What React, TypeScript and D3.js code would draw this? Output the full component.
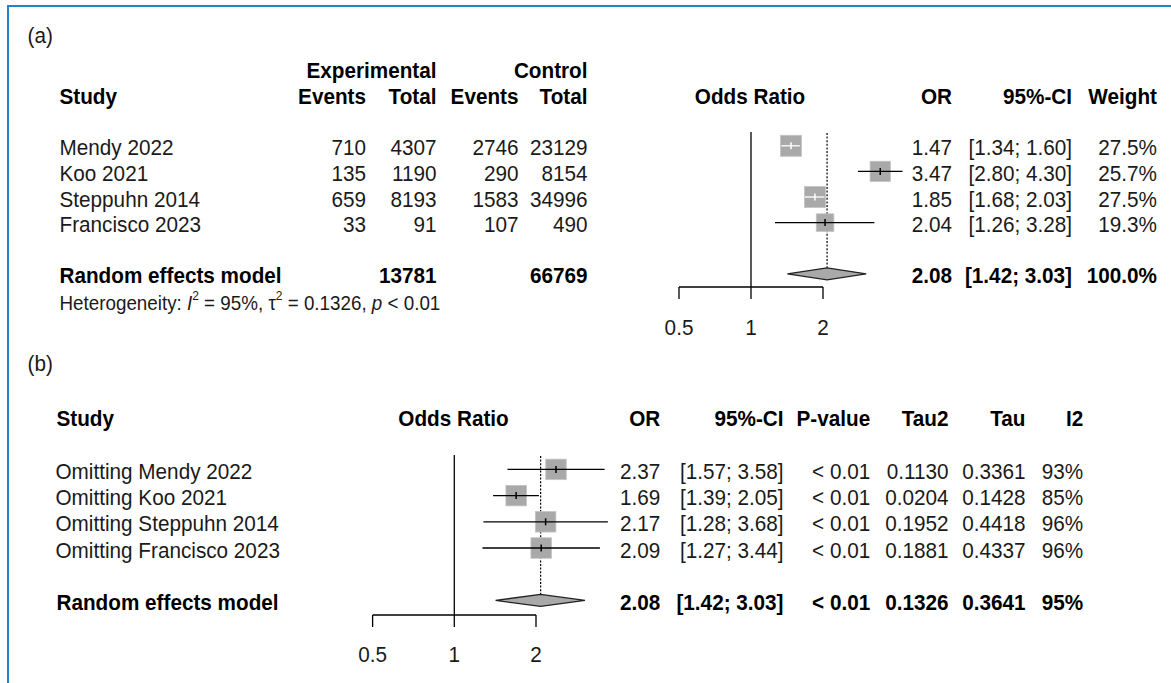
import React from "react";
import * as d3 from "d3";

// ---------- Data: panel (a) ----------
const studies = ["Mendy 2022", "Koo 2021", "Steppuhn 2014", "Francisco 2023"];
const expEvents = [710, 135, 659, 33];
const expTotal = [4307, 1190, 8193, 91];
const ctrlEvents = [2746, 290, 1583, 107];
const ctrlTotal = [23129, 8154, 34996, 490];
const orA = [1.47, 3.47, 1.85, 2.04];
const loA = [1.34, 2.8, 1.68, 1.26];
const hiA = [1.6, 4.3, 2.03, 3.28];
const weightA = [27.5, 25.7, 27.5, 19.3];
const pooledA = { or: 2.08, lo: 1.42, hi: 3.03, expTotal: 13781, ctrlTotal: 66769, weight: 100.0 };
const hetI2 = "95%";
const hetTau2 = "0.1326";
const hetP = "0.01";

// ---------- Data: panel (b) ----------
const omitLabels = ["Omitting Mendy 2022", "Omitting Koo 2021", "Omitting Steppuhn 2014", "Omitting Francisco 2023"];
const orB = [2.37, 1.69, 2.17, 2.09];
const loB = [1.57, 1.39, 1.28, 1.27];
const hiB = [3.58, 2.05, 3.68, 3.44];
const pvalB = ["< 0.01", "< 0.01", "< 0.01", "< 0.01"];
const tau2B = [0.113, 0.0204, 0.1952, 0.1881];
const tauB = [0.3361, 0.1428, 0.4418, 0.4337];
const i2B = [93, 85, 96, 96];
const pooledB = { or: 2.08, lo: 1.42, hi: 3.03, p: "< 0.01", tau2: 0.1326, tau: 0.3641, i2: 95 };

const axisTicks = [0.5, 1, 2];

const FONT = "'Liberation Sans', Arial, Helvetica, sans-serif";
const FS = 22.4;
const SX = 0.925;
const SQ_FILL = "#a9a9a9";

const f2 = (v: number) => v.toFixed(2);
const f4 = (v: number) => v.toFixed(4);
const ci = (l: number, h: number) => `[${f2(l)}; ${f2(h)}]`;

type TProps = {
  x: number;
  y: number;
  anchor?: "start" | "middle" | "end";
  bold?: boolean;
  size?: number;
  sx?: number;
  children: React.ReactNode;
};

function T({ x, y, anchor = "start", bold = false, size = FS, sx = SX, children }: TProps) {
  return (
    <text
      transform={`translate(${x},${y}) scale(${sx},1)`}
      textAnchor={anchor}
      fontSize={size}
      fontWeight={bold ? "bold" : "normal"}
      fill={bold ? "#000" : "#1a1a1a"}
    >
      {children}
    </text>
  );
}

type ForestProps = {
  x: d3.ScaleLogarithmic<number, number>;
  y: (i: number) => number;
  ors: number[];
  los: number[];
  his: number[];
  sizes: number[];
  pooled: { or: number; lo: number; hi: number };
  pooledRow: number;
  lineTop: number;
  axisY: number;
  tickLen: number;
  labelY: number;
};

function Forest({ x, y, ors, los, his, sizes, pooled, pooledRow, lineTop, axisY, tickLen, labelY }: ForestProps) {
  const py = y(pooledRow);
  const dh = 6;
  return (
    <g>
      <line x1={x(1)} x2={x(1)} y1={lineTop} y2={axisY} stroke="#000" strokeWidth={1.3} />
      <line x1={x(pooled.or)} x2={x(pooled.or)} y1={lineTop + 1} y2={py - dh} stroke="#000" strokeWidth={1.2} strokeDasharray="2,1.6" />
      {ors.map((o, i) => {
        const cy = y(i);
        const s = sizes[i];
        const cx = x(o);
        const inside = x(los[i]) >= cx - s / 2 && x(his[i]) <= cx + s / 2;
        const col = inside ? "#ffffff" : "#000000";
        return (
          <g key={i}>
            <rect x={cx - s / 2} y={cy - s / 2} width={s} height={s} fill={SQ_FILL} stroke="#c4c4c4" strokeWidth={0.8} />
            <line x1={x(los[i])} x2={x(his[i])} y1={cy} y2={cy} stroke={col} strokeWidth={1.3} />
            <line x1={cx} x2={cx} y1={cy - 3.5} y2={cy + 3.5} stroke={col} strokeWidth={1.5} />
          </g>
        );
      })}
      <polygon
        points={`${x(pooled.lo)},${py} ${x(pooled.or)},${py - dh} ${x(pooled.hi)},${py} ${x(pooled.or)},${py + dh}`}
        fill={SQ_FILL}
        stroke="#222"
        strokeWidth={1.3}
      />
      <line x1={x(axisTicks[0])} x2={x(axisTicks[axisTicks.length - 1])} y1={axisY} y2={axisY} stroke="#000" strokeWidth={1.3} />
      {axisTicks.map((t) => (
        <g key={t}>
          <line x1={x(t)} x2={x(t)} y1={axisY} y2={axisY + tickLen} stroke="#000" strokeWidth={1.3} />
          <T x={x(t)} y={labelY} anchor="middle">{String(t)}</T>
        </g>
      ))}
    </g>
  );
}

export default function App() {
  const xA = d3.scaleLog().domain([0.5, 2]).range([679, 823]);
  const yA = d3.scaleLinear().domain([0, 1]).range([145.8, 171.4]);
  const sizeA = d3.scaleSqrt().domain([0, 27.5]).range([0, 21]);
  const baseA = (i: number) => yA(i) + 9.5;

  const xB = d3.scaleLog().domain([0.5, 2]).range([372.6, 536]);
  const yB = d3.scaleLinear().domain([0, 1]).range([469.4, 495.6]);
  const baseB = (i: number) => yB(i) + 9.6;

  const colA = { events1: 366, total1: 436.5, events2: 518.5, total2: 587.5, or: 952, ci: 1072, w: 1157 };
  const colB = { or: 660.3, ci: 783.5, p: 870.2, tau2: 948.5, tau: 1025.5, i2: 1083.2 };

  return (
    <svg
      width={1171}
      height={683}
      style={{ position: "absolute", left: 0, top: 0, background: "#fff" }}
      fontFamily={FONT}
    >
      <rect x={0} y={0} width={1171} height={683} fill="#fff" />
      <rect x={7} y={5} width={1164} height={2} fill="#1b87c5" />
      <rect x={7} y={5} width={2} height={678} fill="#1b87c5" />

      {/* ===== Panel (a) ===== */}
      <T x={27.5} y={43}>(a)</T>
      <T x={colA.total1} y={78} anchor="end" bold>Experimental</T>
      <T x={colA.total2} y={78} anchor="end" bold>Control</T>
      <T x={59.5} y={103.5} bold>Study</T>
      <T x={colA.events1} y={103.5} anchor="end" bold>Events</T>
      <T x={colA.total1} y={103.5} anchor="end" bold>Total</T>
      <T x={colA.events2} y={103.5} anchor="end" bold>Events</T>
      <T x={colA.total2} y={103.5} anchor="end" bold>Total</T>
      <T x={750} y={103.5} anchor="middle" bold>Odds Ratio</T>
      <T x={colA.or} y={103.5} anchor="end" bold>OR</T>
      <T x={colA.ci} y={103.5} anchor="end" bold>95%-CI</T>
      <T x={colA.w} y={103.5} anchor="end" bold>Weight</T>
      {studies.map((s, i) => (
        <g key={s}>
          <T x={59.5} y={baseA(i)}>{s}</T>
          <T x={colA.events1} y={baseA(i)} anchor="end">{expEvents[i]}</T>
          <T x={colA.total1} y={baseA(i)} anchor="end">{expTotal[i]}</T>
          <T x={colA.events2} y={baseA(i)} anchor="end">{ctrlEvents[i]}</T>
          <T x={colA.total2} y={baseA(i)} anchor="end">{ctrlTotal[i]}</T>
          <T x={colA.or} y={baseA(i)} anchor="end">{f2(orA[i])}</T>
          <T x={colA.ci} y={baseA(i)} anchor="end">{ci(loA[i], hiA[i])}</T>
          <T x={colA.w} y={baseA(i)} anchor="end">{weightA[i].toFixed(1)}%</T>
        </g>
      ))}
      <T x={59.5} y={baseA(5)} bold>Random effects model</T>
      <T x={colA.total1} y={baseA(5)} anchor="end" bold>{pooledA.expTotal}</T>
      <T x={colA.total2} y={baseA(5)} anchor="end" bold>{pooledA.ctrlTotal}</T>
      <T x={colA.or} y={baseA(5)} anchor="end" bold>{f2(pooledA.or)}</T>
      <T x={colA.ci} y={baseA(5)} anchor="end" bold>{ci(pooledA.lo, pooledA.hi)}</T>
      <T x={colA.w} y={baseA(5)} anchor="end" bold>{pooledA.weight.toFixed(1)}%</T>
      <T x={59.5} y={309.5} size={20.4} sx={0.922}>
        Heterogeneity: <tspan fontStyle="italic">I</tspan>
        <tspan fontSize={13} dy={-9.5}>2</tspan>
        <tspan dy={9.5}>{` = ${hetI2}, τ`}</tspan>
        <tspan fontSize={13} dy={-9.5}>2</tspan>
        <tspan dy={9.5}>{` = ${hetTau2}, `}</tspan>
        <tspan fontStyle="italic">p</tspan>
        <tspan>{` < ${hetP}`}</tspan>
      </T>
      <Forest
        x={xA}
        y={yA}
        ors={orA}
        los={loA}
        his={hiA}
        sizes={weightA.map((w) => sizeA(w))}
        pooled={pooledA}
        pooledRow={5}
        lineTop={132}
        axisY={287}
        tickLen={12}
        labelY={335}
      />

      {/* ===== Panel (b) ===== */}
      <T x={27.5} y={371}>(b)</T>
      <T x={56.5} y={425.5} bold>Study</T>
      <T x={453.5} y={425.5} anchor="middle" bold>Odds Ratio</T>
      <T x={colB.or} y={425.5} anchor="end" bold>OR</T>
      <T x={colB.ci} y={425.5} anchor="end" bold>95%-CI</T>
      <T x={colB.p} y={425.5} anchor="end" bold>P-value</T>
      <T x={colB.tau2} y={425.5} anchor="end" bold>Tau2</T>
      <T x={colB.tau} y={425.5} anchor="end" bold>Tau</T>
      <T x={colB.i2} y={425.5} anchor="end" bold>I2</T>
      {omitLabels.map((s, i) => (
        <g key={s}>
          <T x={55.5} y={baseB(i)}>{s}</T>
          <T x={colB.or} y={baseB(i)} anchor="end">{f2(orB[i])}</T>
          <T x={colB.ci} y={baseB(i)} anchor="end">{ci(loB[i], hiB[i])}</T>
          <T x={colB.p} y={baseB(i)} anchor="end">{pvalB[i]}</T>
          <T x={colB.tau2} y={baseB(i)} anchor="end">{f4(tau2B[i])}</T>
          <T x={colB.tau} y={baseB(i)} anchor="end">{f4(tauB[i])}</T>
          <T x={colB.i2} y={baseB(i)} anchor="end">{i2B[i]}%</T>
        </g>
      ))}
      <T x={56.5} y={baseB(5)} bold>Random effects model</T>
      <T x={colB.or} y={baseB(5)} anchor="end" bold>{f2(pooledB.or)}</T>
      <T x={colB.ci} y={baseB(5)} anchor="end" bold>{ci(pooledB.lo, pooledB.hi)}</T>
      <T x={colB.p} y={baseB(5)} anchor="end" bold>{pooledB.p}</T>
      <T x={colB.tau2} y={baseB(5)} anchor="end" bold>{f4(pooledB.tau2)}</T>
      <T x={colB.tau} y={baseB(5)} anchor="end" bold>{f4(pooledB.tau)}</T>
      <T x={colB.i2} y={baseB(5)} anchor="end" bold>{pooledB.i2}%</T>
      <Forest
        x={xB}
        y={yB}
        ors={orB}
        los={loB}
        his={hiB}
        sizes={orB.map(() => 20.5)}
        pooled={pooledB}
        pooledRow={5}
        lineTop={455}
        axisY={615}
        tickLen={12}
        labelY={662}
      />
    </svg>
  );
}
